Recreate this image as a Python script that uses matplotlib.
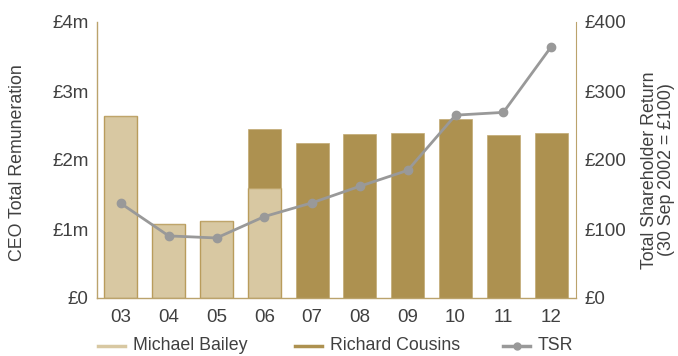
import numpy as np
import matplotlib.pyplot as plt
from matplotlib.lines import Line2D

plt.rcParams['font.family'] = ['Liberation Sans', 'DejaVu Sans']

years = ['03', '04', '05', '06', '07', '08', '09', '10', '11', '12']
bailey = [2.64, 1.07, 1.11, 1.60, 0, 0, 0, 0, 0, 0]        # £m
cousins = [0, 0, 0, 0.85, 2.25, 2.37, 2.39, 2.59, 2.36, 2.39]  # £m
tsr = [137, 90, 87, 118, 138, 162, 185, 265, 269, 364]     # £, 30 Sep 2002 = £100

light = '#d8c8a2'
light_edge = '#b99c5c'
dark = '#ad9150'
spine = '#bba36c'
grey = '#999999'
txt = '#404040'

W, H = 678, 356
fig = plt.figure(figsize=(W / 100, H / 100), dpi=100)
ax = fig.add_axes([97 / W, 1 - 298 / H, (576 - 97) / W, (298 - 22) / H])
x = np.arange(len(years))
w = 0.69

ax.bar(x, bailey, w, color=light, edgecolor=light_edge, linewidth=1.0, zorder=2)
ax.bar(x, cousins, w, bottom=bailey, color=dark, edgecolor='#c2aa72', linewidth=0.5, zorder=2)

ax.set_xlim(-0.5, 9.52)
ax.set_ylim(0, 4)
ax.set_yticks([0, 1, 2, 3, 4])
ax.set_yticklabels(['£0', '£1m', '£2m', '£3m', '£4m'])
ax.set_xticks(x)
ax.set_xticklabels(years)
ax.tick_params(length=0, labelsize=13.5, colors=txt, pad=6)
ax.tick_params(axis='x', pad=8)
for s in ['top', 'right']:
    ax.spines[s].set_visible(False)
for s in ['left', 'bottom']:
    ax.spines[s].set_color(spine)
    ax.spines[s].set_linewidth(1.0)

ax2 = ax.twinx()
ax2.plot(x, tsr, color=grey, linewidth=2, marker='o', markersize=6, zorder=3)
ax2.set_ylim(0, 400)
ax2.set_yticks([0, 100, 200, 300, 400])
ax2.set_yticklabels(['£0', '£100', '£200', '£300', '£400'])
ax2.tick_params(length=0, labelsize=13.5, colors=txt, pad=6)
for s in ['top', 'left', 'bottom']:
    ax2.spines[s].set_visible(False)
ax2.spines['right'].set_color(spine)

# axis titles placed in figure pixels
fig.text(18 / W, 1 - 163 / H, 'CEO Total Remuneration', fontsize=12.8, color=txt,
         rotation=90, ha='center', va='center')
fig.text(658 / W, 1 - 170 / H, 'Total Shareholder Return\n(30 Sep 2002 = £100)',
         fontsize=12.8, color=txt, rotation=90, ha='center', va='center',
         multialignment='center', linespacing=1.05)

# legend entries laid out along the bottom
entries = [
    ('Michael Bailey', dict(color=light), 98),
    ('Richard Cousins', dict(color=dark), 295),
    ('TSR', dict(color=grey, marker='o', markersize=5), 503),
]
ly = 1 - 346 / H
for label, style, x0 in entries:
    fig.add_artist(Line2D([x0 / W, (x0 + 13.5) / W, (x0 + 27) / W], [ly, ly, ly],
                          linewidth=2.5, transform=fig.transFigure,
                          markevery=[1] if 'marker' in style else None, **style))
    fig.text((x0 + 35) / W, ly, label, fontsize=12.8, color=txt, va='center', ha='left')

fig.savefig('out.png', dpi=100)
